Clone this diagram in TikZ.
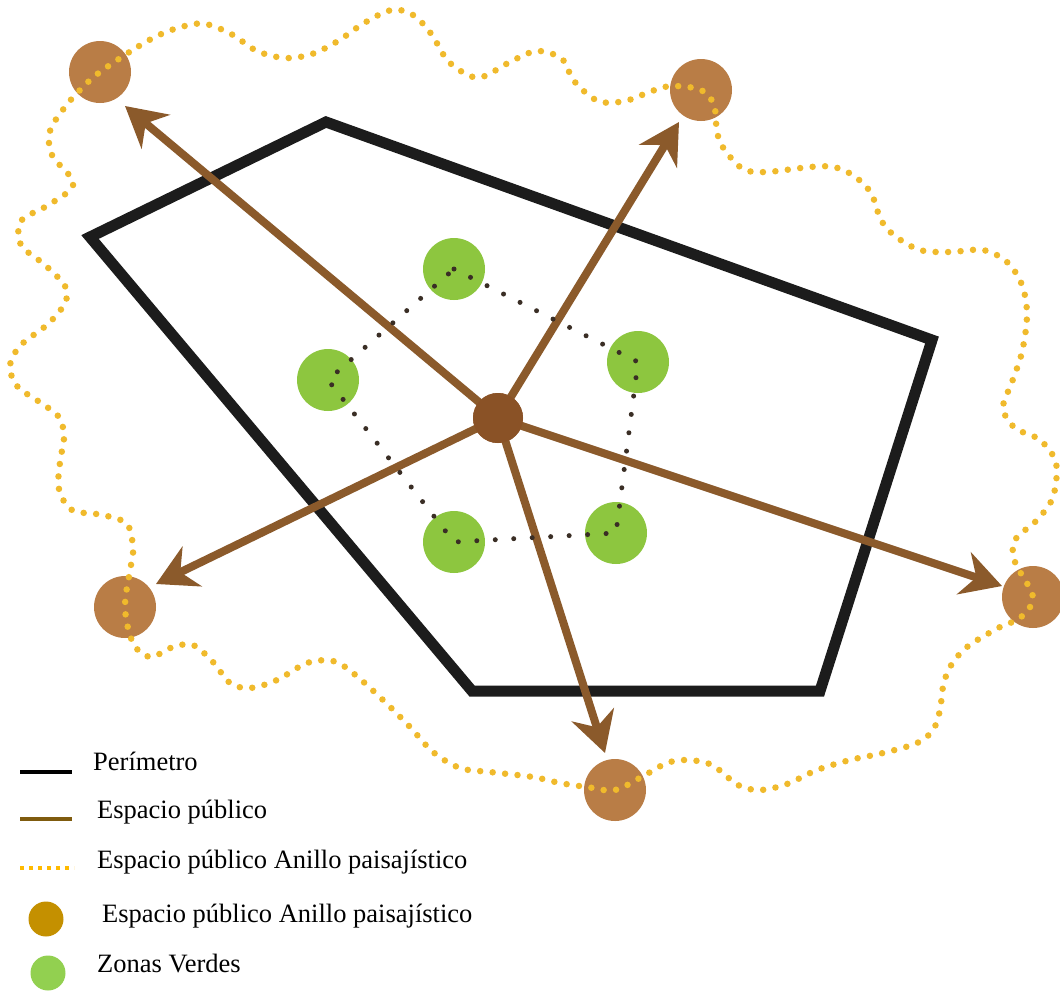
\documentclass[tikz,border=0pt]{standalone}
\usepackage{fontspec}
\setmainfont{Liberation Serif}
\usetikzlibrary{arrows.meta}
\definecolor{perim}{HTML}{1C1C1C}
\definecolor{arrbrown}{HTML}{8B5A2B}
\definecolor{hubbrown}{HTML}{8A5226}
\definecolor{outerbrown}{HTML}{B97D46}
\definecolor{ringdot}{HTML}{F0BA2C}
\definecolor{greenzone}{HTML}{8DC63F}
\definecolor{darkdot}{HTML}{3A2E25}
\definecolor{legbrown}{HTML}{7F5B0E}
\definecolor{legorange}{HTML}{FFBA00}
\definecolor{leggold}{HTML}{C49000}
\definecolor{leggreen}{HTML}{92D050}
\begin{document}
\begin{tikzpicture}[x=1pt,y=-1pt,
  perimline/.style={draw=perim,line width=11pt,line join=miter},
  spoke/.style={draw=arrbrown,line width=8pt,-{Stealth[length=40pt,width=44pt,inset=13pt]}},
  hub/.style={circle,fill=hubbrown,minimum size=50pt,inner sep=0pt},
  outer/.style={circle,fill=outerbrown,minimum size=62pt,inner sep=0pt},
  zone/.style={circle,fill=greenzone,minimum size=62pt,inner sep=0pt},
  ringline/.style={draw=ringdot,line width=6.5pt,line cap=round,dash pattern=on 0pt off 12.5pt},
  zonelink/.style={draw=darkdot,line width=5pt,line cap=round,dash pattern=on 0pt off 18.5pt},
  legtext/.style={anchor=base west,inner sep=0pt,font=\fontsize{26.5}{30}\selectfont},
  legdot/.style={circle,minimum size=35pt,inner sep=0pt}
]
\useasboundingbox (0,0) rectangle (1060,991);
\fill[white] (0,0) rectangle (1060,991);

% perimeter
\draw[perimline] (90,237) -- (326,122) -- (932,340) -- (820,691) -- (472,691) -- cycle;

% outer circles
\node[outer] (o1) at (100,72) {};
\node[outer] (o2) at (701,90) {};
\node[outer] (o3) at (1033,597) {};
\node[outer] (o4) at (615,790) {};
\node[outer] (o5) at (125,607) {};

% landscape ring (wavy dotted)
\draw[ringline] plot[smooth cycle, tension=0.55] coordinates {
 (o1.center) (139,46) (166,32) (194,24) (210,25) (233,35) (257,51) (285,58) (312,54) (338,41)
 (361,25) (385,12) (400,10) (416,17) (432,35) (448,61) (470,76) (485,76) (510,62) (537,51)
 (562,59) (574,81) (598,101) (625,101) (652,91) (672,86)
 (o2.center) (714,105) (717,132) (724,149) (743,169) (766,172) (810,167) (834,167) (854,176)
 (871,193) (881,220) (895,236) (920,250) (950,252) (983,250) (1007,262) (1022,285) (1027,315)
 (1022,352) (1012,382) (1003,408) (1015,428) (1040,440) (1056,463) (1053,497) (1037,520)
 (1015,540) (1015,562)
 (o3.center) (1020,618) (1000,627) (967,647) (950,667) (943,687) (940,710) (933,730) (917,743)
 (883,753) (850,760) (817,770) (787,784) (760,790) (738,785) (712,765) (687,760) (667,763) (645,775)
 (o4.center) (587,787) (560,783) (533,777) (490,772) (460,768) (433,752) (410,727) (383,700)
 (353,673) (333,661) (307,663) (277,680) (250,688) (230,683) (213,662) (193,645) (173,647)
 (150,657) (133,643)
 (o5.center) (131,565) (133,548) (127,524) (103,515) (72,510) (59,489) (60,462) (64,437) (59,417)
 (41,403) (17,386) (10,365) (21,345) (48,324) (65,303) (65,286) (45,265) (21,245) (21,221)
 (45,207) (69,191) (72,179) (52,155) (50,131) (65,107) (82,88)
};

% hub and spokes
\node[hub] (c) at (498,418) {};
\coordinate (t1) at (125,106);
\coordinate (t2) at (679,122);
\coordinate (t3) at (1002,586);
\coordinate (t4) at (605,753);
\coordinate (t5) at (156,584);
\foreach \t in {t1,t2,t3,t4,t5}{\draw[spoke] (c.center) -- (\t);}
\node[hub] at (c) {};

% green zones
\node[zone] (g1) at (454,269) {};
\node[zone] (g2) at (638,362) {};
\node[zone] (g3) at (616,533) {};
\node[zone] (g4) at (454,542) {};
\node[zone] (g5) at (328,380) {};
\draw[zonelink] (g1.center) -- (g2.center) -- (g3.center) -- (g4.center) -- (g5.center) -- cycle;

% legend
\coordinate (la1) at (20,772); \coordinate (lb1) at (72,772);
\draw[draw=black,line width=4.5pt] (la1) -- (lb1);
\node[legtext] (lt1) at (93,770) {Perímetro};
\coordinate (la2) at (20,819); \coordinate (lb2) at (72,819);
\draw[draw=legbrown,line width=3.5pt] (la2) -- (lb2);
\node[legtext] (lt2) at (97,818) {Espacio público};
\coordinate (la3) at (20,868); \coordinate (lb3) at (74,868);
\draw[draw=legorange,line width=4pt,dash pattern=on 4pt off 5pt] (la3) -- (lb3);
\node[legtext] (lt3) at (97,868) {Espacio público Anillo paisajístico};
\node[legdot,fill=leggold] (ld4) at (46,919) {};
\node[legtext] (lt4) at (102,922) {Espacio público Anillo paisajístico};
\node[legdot,fill=leggreen] (ld5) at (48,973) {};
\node[legtext] (lt5) at (97,972) {Zonas Verdes};
\end{tikzpicture}
\end{document}
